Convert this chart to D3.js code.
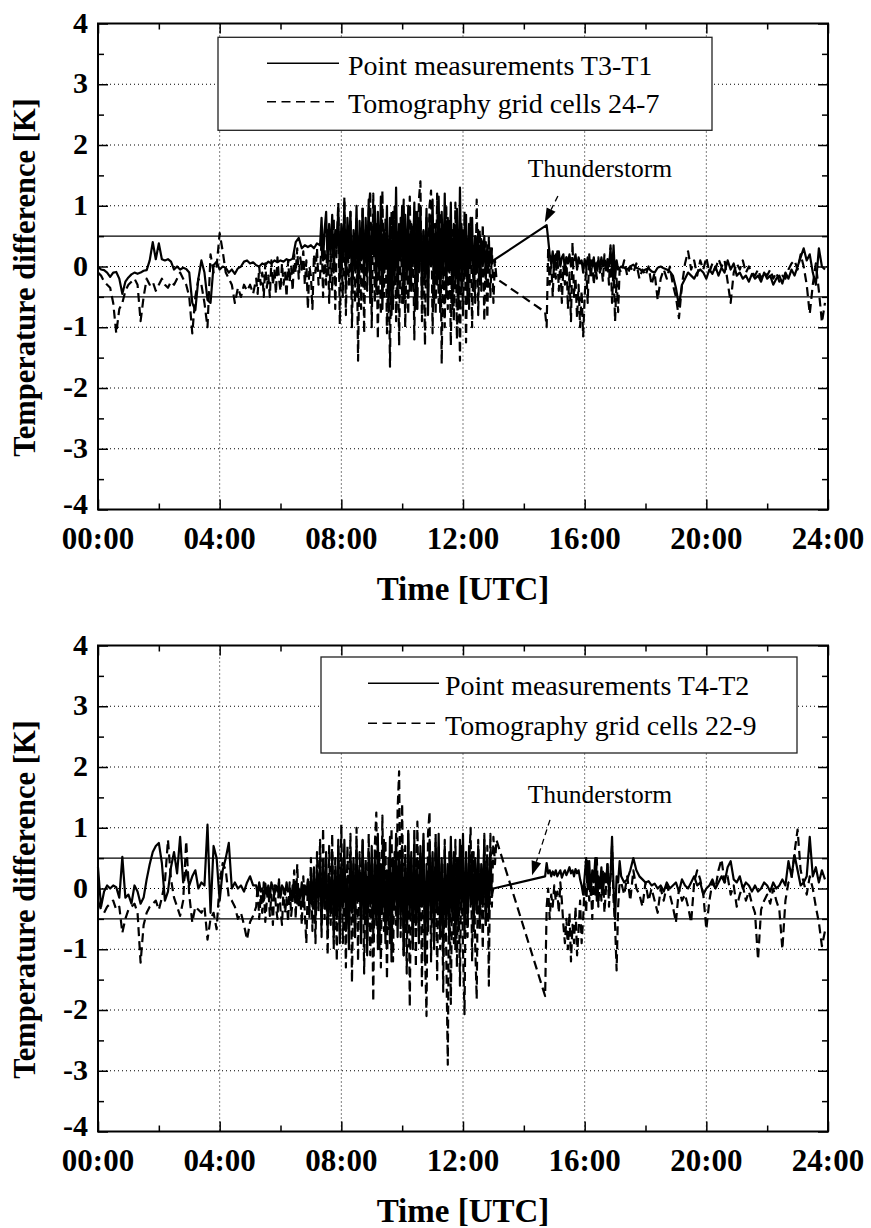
<!DOCTYPE html>
<html>
<head>
<meta charset="utf-8">
<script src="https://cdn.jsdelivr.net/npm/d3@7"></script>
<style>
  body { margin: 0; background: #fff; }
  svg { display: block; }
  svg text { font-family: "Liberation Serif", "Times New Roman", "DejaVu Serif", serif; }
</style>
</head>
<body>
<div id="chart"></div>
<script>
// axis ticks
const hourTicks = [0, 4, 8, 12, 16, 20, 24];
const hourLabels = ["00:00", "04:00", "08:00", "12:00", "16:00", "20:00", "24:00"];
const minorHours = [2, 6, 10, 14, 18, 22];
const tempTicks = [-4, -3, -2, -1, 0, 1, 2, 3, 4];
const minorTemps = [-3.5, -2.5, -1.5, -0.5, 0.5, 1.5, 2.5, 3.5];
const limitLines = [-0.5, 0.5];

// ---- top panel: T3-T1 and grid cells 24-7 (values in K) ----
// 00:00 - 05:06, every 0.1 h
const topPointA = [0.0, -0.05, -0.06, -0.1, -0.17, -0.1, -0.09, -0.2, -0.45, -0.25,
  -0.18, -0.13, -0.1, -0.12, -0.1, -0.07, -0.06, 0.1, 0.4, 0.12,
  0.38, 0.12, 0.1, 0.12, 0.08, -0.05, 0.0, -0.05, -0.02, -0.04,
  -0.1, -0.6, -0.72, -0.2, 0.1, -0.1, -0.55, -0.6, 0.02, 0.08,
  -0.05, 0.0, -0.02, -0.1, -0.05, -0.12, -0.03, 0.0, 0.08, 0.1,
  0.05, 0.07];
// 05:12 - 07:12, every 0.1 h
const topPointB = [0.02, 0.0, 0.05, 0.03, 0.08, 0.05, 0.1, 0.07, 0.1, 0.08,
  0.12, 0.1, 0.13, 0.4, 0.47, 0.3, 0.35, 0.32, 0.35, 0.3, 0.38];
// 07:18 - 13:00, every 0.05 h
const topPointDense = [0.35, 0.8, 0.1, 0.6, 0.9, 0.0, 0.7, 0.2, 0.85, -0.1,
  0.6, 0.3, 0.95, -0.2, 0.7, 0.1, 1.05, -0.3, 0.8, 0.2,
  0.9, -0.4, 0.6, 0.0, 1.0, -0.5, 0.75, 0.1, 0.95, -0.3,
  0.8, -0.1, 1.1, -0.6, 0.7, 0.2, 1.0, -0.4, 0.9, -0.2,
  1.15, -0.7, 0.6, 0.0, 1.0, -0.75, 0.8, -0.8, 0.9, -0.3,
  1.3, -0.5, 0.7, 0.1, 1.0, -0.6, 0.85, -0.2, 1.0, -0.4,
  0.7, 0.0, 1.05, -0.7, 0.9, -0.1, 1.0, -0.5, 0.6, -0.2,
  0.95, -0.8, 0.8, 0.0, 1.1, -0.6, 0.7, -0.3, 1.15, -0.75,
  0.9, -0.2, 1.2, -0.5, 0.8, -0.1, 1.05, -0.7, 0.7, -0.3,
  0.95, -0.7, 1.3, -0.4, 0.6, -0.2, 0.85, -0.6, 0.7, 0.0,
  0.8, -0.4, 0.5, -0.1, 0.6, -0.3, 0.45, 0.0, 0.5, -0.2,
  0.35, 0.0, 0.3, 0.05, 0.1];
// 14:45 - 17:06, every 0.05 h
const topPointStorm = [0.68, 0.45, 0.2, 0.05, 0.25, -0.05, 0.2, 0.1, 0.25, 0.0,
  0.15, 0.2, -0.05, 0.15, 0.05, 0.2, 0.0, 0.12, 0.1, 0.2,
  -0.05, 0.15, 0.05, 0.1, -0.1, 0.12, 0.0, 0.15, -0.05, 0.1,
  0.0, 0.15, -0.1, 0.05, 0.1, -0.05, 0.15, 0.0, 0.1, -0.05,
  0.12, 0.0, 0.3, -0.1, 0.35, -0.2, 0.1, -0.05];
// 17:12 - 23:54, every 0.1 h
const topPointEvening = [0.0, -0.02, -0.05, 0.0, 0.03, -0.02, -0.04, -0.08, -0.05, -0.03,
  -0.08, -0.1, -0.02, 0.0, -0.03, -0.05, -0.08, -0.15, -0.35, -0.65,
  -0.3, -0.2, -0.1, -0.15, -0.2, -0.1, -0.05, -0.1, -0.2, -0.05,
  -0.12, 0.0, -0.15, -0.02, -0.1, 0.1, -0.05, 0.05, -0.15, -0.1,
  -0.2, -0.15, -0.25, -0.12, -0.2, -0.15, -0.25, -0.1, -0.2, -0.15,
  -0.3, -0.2, -0.15, -0.28, -0.1, -0.2, -0.05, -0.15, 0.0, 0.15,
  0.3, 0.1, 0.2, -0.1, -0.3, 0.3, 0.0, -0.05];

const topTomoA = [-0.1, -0.15, -0.25, -0.3, -0.35, -0.6, -1.1, -0.7, -0.6, -0.4,
  -0.3, -0.25, -0.2, -0.3, -0.9, -0.5, -0.2, -0.3, -0.25, -0.4,
  -0.3, -0.2, -0.3, -0.35, -0.25, -0.3, -0.2, -0.1, -0.2, -0.3,
  -0.5, -1.1, -0.5, -0.2, -0.3, -0.6, -1.0, 0.2, -0.1, 0.0,
  0.55, 0.25, -0.1, -0.2, -0.3, -0.6, -0.35, -0.5, -0.3, -0.4,
  -0.3, -0.45];
// 05:12 - 07:15, every 0.05 h
const topTomoB = [-0.2, -0.45, 0.0, -0.3, -0.1, -0.5, 0.05, -0.35, -0.15, -0.5,
  0.1, -0.3, -0.05, -0.45, 0.15, -0.2, -0.4, 0.05, -0.3, -0.1,
  -0.5, 0.1, -0.25, 0.0, -0.4, 0.2, -0.1, 0.3, -0.2, 0.15,
  -0.05, 0.25, -0.3, 0.1, -0.7, 0.0, -0.15, -0.7, 0.2, -0.1,
  0.3, -0.3];
// 07:18 - 13:06, every 0.05 h
const topTomoDense = [-0.2, 0.5, -0.5, 0.3, -0.3, 0.6, -0.6, 0.2, -0.4, 0.8,
  -0.7, 0.4, 1.05, -0.95, 0.3, -0.5, 1.15, -0.8, 0.6, -0.3,
  0.9, -1.0, 0.5, -0.6, 0.8, -1.55, 0.4, -0.7, 1.0, -1.1,
  0.6, -0.4, 0.9, 1.25, -1.0, 1.2, -0.6, 0.7, -1.2, 0.5,
  -0.8, 1.25, -0.5, 0.8, -1.1, 0.4, -1.65, 0.9, -0.7, 1.0,
  -0.9, 0.6, -1.3, 0.8, -0.6, 1.1, -1.0, 0.5, -0.8, 1.15,
  -0.4, 0.7, -1.2, 0.9, -0.7, 1.1, 1.4, -0.9, 0.6, -1.3,
  0.8, -0.5, 1.0, 1.25, -1.1, 0.7, -0.8, 1.2, -0.6, 0.9,
  -1.6, 0.5, -1.0, 1.0, -0.7, 0.8, -1.3, 0.6, -0.9, 1.05,
  -1.2, 0.4, -1.55, 0.7, -0.8, 0.9, -1.25, 0.5, -0.7, 0.8,
  -1.0, 0.3, -0.6, 1.1, -0.8, 0.6, -0.4, 0.7, -0.9, 0.4,
  -0.85, 0.5, -0.5, 0.3, -0.6, 0.1, -0.2];
// 14:42 - 17:09, every 0.05 h
const topTomoStorm = [-0.75, -1.0, 0.3, -0.3, 0.1, -0.5, 0.2, -0.2, 0.25, -0.4,
  0.1, -0.6, 0.0, -0.3, 0.15, -0.7, -0.1, -0.9, 0.4, -0.5,
  -0.2, -0.85, -0.3, -1.0, -0.4, -1.15, -0.5, 0.0, -0.6, 0.2,
  -0.2, 0.1, -0.3, 0.05, -0.2, 0.15, -0.1, 0.0, -0.25, 0.2,
  -0.1, 0.1, -0.3, 0.35, -0.6, 0.0, -0.9, -0.2, -0.75, -0.05];
const topTomoEvening = [-0.1, 0.1, -0.15, 0.0, -0.1, 0.05, -0.2, -0.05, -0.15, 0.0,
  -0.3, -0.1, -0.55, -0.2, -0.05, -0.2, 0.0, -0.3, -0.5, -0.85,
  -0.3, 0.05, 0.25, -0.05, 0.1, -0.15, 0.1, -0.05, 0.15, -0.1,
  0.05, -0.05, 0.12, 0.0, 0.1, -0.25, -0.6, -0.1, 0.05, -0.05,
  0.1, -0.1, 0.0, -0.1, -0.15, -0.05, -0.2, -0.1, -0.15, -0.05,
  -0.2, -0.1, -0.25, -0.15, -0.2, -0.05, 0.05, 0.1, -0.05, 0.2,
  0.0, -0.3, -0.78, -0.3, 0.05, -0.4, -0.92, -0.6];

// ---- bottom panel: T4-T2 and grid cells 22-9 ----
const botPointA = [0.35, -0.3, -0.05, 0.05, 0.0, 0.05, 0.02, -0.15, 0.52, -0.15,
  -0.1, -0.25, 0.05, -0.05, -0.25, -0.15, 0.15, 0.4, 0.6, 0.7,
  0.75, 0.42, -0.2, -0.05, 0.35, 0.6, 0.25, 0.85, 0.1, 0.3,
  0.05, 0.2, 0.3, 0.0, 0.1, 0.05, 1.05, -0.4, 0.7, 0.5,
  -0.2, 0.3, 0.5, 0.75, 0.0, 0.1, 0.0, 0.05, -0.05, 0.1,
  0.2, 0.05];
// 05:12 - 13:00, every 0.05 h
const botPointDense = [0.05, -0.1, 0.1, -0.05, 0.0, -0.2, 0.08, -0.1, 0.05, -0.15,
  0.1, 0.0, -0.1, 0.05, -0.05, 0.1, -0.15, 0.05, 0.0, -0.1,
  0.1, -0.05, 0.0, -0.2, 0.05, -0.1, 0.1, -0.25, 0.0, -0.15,
  0.1, -0.3, 0.05, -0.1, 0.15, -0.35, 0.2, -0.3, 0.35, -0.5,
  0.3, -0.2, 0.5, -0.6, 0.4, -0.3, 0.6, -0.7, 0.2, -0.4,
  0.55, -0.8, 0.3, -0.5, 0.7, -0.9, 0.4, -0.3, 0.8, -0.7,
  0.2, -1.0, 0.6, -0.4, 0.5, -0.8, 0.7, -0.2, 0.3, -0.9,
  0.8, -0.5, 0.4, -1.1, 0.6, -0.3, 0.7, -0.8, 0.5, -0.6,
  0.9, -1.0, 0.4, -0.4, 0.8, -0.9, 0.3, -0.6, 0.85, -1.2,
  0.5, -0.3, 0.9, -0.8, 0.6, -0.5, 0.7, -1.1, 0.4, -0.7,
  0.95, -0.4, 0.6, -1.0, 0.8, -0.6, 0.5, -0.9, 0.7, -0.3,
  0.9, -1.2, 0.4, -0.7, 0.8, -0.5, 0.6, -1.0, 0.75, -0.4,
  0.9, -0.8, 0.5, -1.1, 0.7, -0.6, 0.4, -0.9, 0.85, -0.5,
  0.6, -1.0, 0.5, -0.7, 0.8, -0.4, 0.9, -0.8, 0.5, -0.6,
  0.7, -0.3, 0.6, -0.7, 0.5, -0.4, 0.7, -0.5, 0.4, -0.3,
  0.8, -0.6, 0.5, -0.4, 0.6, -0.1, 0.0];
// 14:42 - 17:09, every 0.05 h
const botPointStorm = [0.2, 0.42, 0.25, 0.3, 0.2, 0.28, 0.22, 0.3, 0.2, 0.25,
  0.3, 0.18, 0.25, 0.3, 0.22, 0.28, 0.35, 0.25, 0.3, 0.2,
  0.32, 0.25, 0.3, 0.15, 0.05, -0.1, 0.2, 0.5, 0.0, 0.45,
  -0.1, 0.3, 0.1, 0.5, -0.2, 0.2, 0.0, 0.35, -0.1, 0.25,
  0.1, 0.4, -0.05, 0.2, 0.85, 0.0, -0.5, 0.2, 0.1, 0.45];
const botPointEvening = [0.2, 0.1, 0.15, 0.3, 0.5, 0.3, 0.2, 0.15, 0.1, 0.12,
  0.05, 0.08, 0.0, 0.05, -0.05, 0.1, 0.0, 0.05, 0.1, -0.05,
  0.15, 0.05, 0.0, 0.1, 0.2, 0.05, 0.1, -0.1, 0.0, 0.05,
  0.15, 0.0, 0.1, 0.2, 0.1, 0.35, 0.45, 0.15, 0.1, 0.2,
  0.0, 0.1, 0.05, -0.05, 0.05, -0.05, 0.0, 0.1, 0.05, -0.05,
  0.1, 0.0, 0.05, 0.15, 0.05, 0.45, 0.2, 0.55, 0.3, 0.05,
  0.1, 0.2, 0.85, 0.2, 0.35, 0.1, 0.3, 0.15];

const botTomoA = [-0.2, -0.35, -0.4, -0.3, -0.25, -0.2, -0.35, -0.3, -0.73, -0.5,
  -0.35, -0.3, -0.25, -0.4, -1.22, -0.6, -0.4, -0.3, -0.25, -0.2,
  -0.35, -0.15, 0.1, 0.8, 0.15, -0.15, -0.3, -0.45, -0.2, 0.78,
  -0.1, -0.56, -0.3, -0.35, -0.4, -0.3, -0.84, -0.5, -0.4, -0.67,
  0.1, 0.42, 0.3, -0.15, -0.2, -0.3, -0.5, -0.4, -0.6, -0.84,
  -0.55, -0.45];
// 05:12 - 13:06, every 0.05 h
const botTomoDense = [-0.3, 0.05, -0.5, -0.1, -0.4, 0.1, -0.55, -0.2, 0.0, -0.45,
  -0.1, -0.6, 0.05, -0.3, -0.5, 0.15, -0.35, -0.6, 0.0, -0.4,
  -0.15, -0.55, 0.1, -0.45, -0.2, 0.3, -0.5, 0.4, -0.3, -0.1,
  -0.6, 0.2, -0.4, -0.9, 0.1, -0.5, 0.5, -0.7, 0.3, -0.9,
  0.6, -0.4, 0.8, -0.8, 1.0, -0.5, 0.4, -1.1, 0.7, -0.6,
  0.9, -1.0, 0.5, -1.2, 0.8, -0.7, 1.05, -0.9, 0.3, -1.3,
  0.7, -0.6, 0.9, -1.55, 0.4, -0.8, 1.0, -1.2, 0.6, -0.5,
  0.8, -1.4, 0.5, -0.9, 0.9, -1.1, 0.3, -1.86, 0.7, 1.25,
  -1.0, 0.6, -1.3, 1.2, -0.7, 0.8, -1.5, 0.5, -0.9, 1.0,
  -1.2, 0.6, -0.6, 1.3, 1.93, -0.8, 1.4, -1.1, 0.7, -1.4,
  0.9, -1.95, 0.5, -0.9, 1.0, -1.3, 1.1, -0.7, 0.6, -1.6,
  0.8, -1.0, -2.1, 0.9, 1.27, -1.2, 0.5, -0.8, 0.9, -1.5,
  0.7, -1.0, 0.4, -1.7, 0.8, -1.1, -2.9, 0.6, -1.9, 0.3,
  -0.9, 0.8, -1.3, 0.5, -1.6, 0.7, -1.0, -2.07, 0.6, -0.8,
  0.4, 1.0, -1.2, 0.6, -0.9, -1.82, 0.8, -0.7, 0.3, -1.0,
  0.9, -0.6, 0.7, -1.6, 0.9, -0.3, 0.85, 0.4, 0.8];
// 14:42 - 17:09, every 0.05 h
const botTomoStorm = [-1.77, -0.3, 0.0, -0.5, -0.1, -0.3, 0.05, -0.2, -0.05, -0.4,
  0.1, -0.2, -0.6, -0.9, -0.5, -1.0, -0.4, -1.2, -0.6, -0.9,
  -0.3, -1.1, -0.7, -0.2, -0.9, -0.5, 0.1, -0.4, 0.45, -0.2,
  0.1, -0.5, 0.3, -0.1, 0.5, -0.3, 0.2, -0.2, 0.3, -0.4,
  0.0, 0.4, -0.3, 0.2, 0.7, -0.2, -0.6, -1.35, -0.3, 0.1];
const botTomoEvening = [0.1, -0.1, 0.2, -0.2, 0.3, 0.0, -0.1, -0.3, 0.1, -0.2,
  0.0, -0.2, -0.4, 0.0, -0.2, 0.05, -0.1, -0.3, -0.56, 0.0,
  -0.2, -0.1, -0.3, -0.56, 0.1, 0.3, 0.15, -0.1, -0.67, -0.2,
  0.1, 0.0, 0.3, 0.48, 0.1, 0.2, -0.1, 0.05, -0.3, -0.1,
  0.05, -0.2, -0.05, -0.25, -0.4, -1.17, -0.35, -0.2, -0.1, -0.25,
  0.0, -0.2, -0.35, -1.0, -0.2, 0.1, 0.15, 0.6, 0.97, 0.3,
  0.1, -0.1, 0.2, 0.0, -0.3, -0.56, -0.95, -0.7];

// samples of one segment: start hour, sampling step in hours
const seg = (start, step, values) => values.map((v, i) => ({ t: start + i * step, v: v }));

const panels = [
  {
    top: 23.5,
    point: [].concat(seg(0, 0.1, topPointA), seg(5.2, 0.1, topPointB), seg(7.3, 0.05, topPointDense),
      seg(14.75, 0.05, topPointStorm), seg(17.2, 0.1, topPointEvening)),
    tomo: [].concat(seg(0, 0.1, topTomoA), seg(5.2, 0.05, topTomoB), seg(7.3, 0.05, topTomoDense),
      seg(14.7, 0.05, topTomoStorm), seg(17.2, 0.1, topTomoEvening)),
    legendText: ["Point measurements T3-T1", "Tomography grid cells 24-7"],
    legend: { x: 218, y: 13.8, w: 494, h: 93, lineX: [267, 339], textX: 348, rows: [39.8, 78.2] },
    storm: { label: [16.5, 1.47], from: [15.12, 1.16], to: [14.69, 0.73] }
  },
  {
    top: 645.5,
    point: [].concat(seg(0, 0.1, botPointA), seg(5.2, 0.05, botPointDense),
      seg(14.7, 0.05, botPointStorm), seg(17.2, 0.1, botPointEvening)),
    tomo: [].concat(seg(0, 0.1, botTomoA), seg(5.2, 0.05, botTomoDense),
      seg(14.7, 0.05, botTomoStorm), seg(17.2, 0.1, botTomoEvening)),
    legendText: ["Point measurements T4-T2", "Tomography grid cells 22-9"],
    legend: { x: 321, y: 11.5, w: 476, h: 96, lineX: [368, 439], textX: 445, rows: [37.8, 77.8] },
    storm: { label: [16.5, 1.41], from: [14.86, 1.13], to: [14.27, 0.22] }
  }
];

const width = 871, height = 1228;
const plotH = 486;

const svg = d3.select("#chart")
  .append("svg")
  .attr("width", width)
  .attr("height", height);

const x = d3.scaleLinear().domain([0, 24]).range([98, 828]);
const y = d3.scaleLinear().domain([-4, 4]).range([plotH, 0]);

const line = d3.line()
  .x(d => x(d.t))
  .y(d => y(d.v));

panels.forEach(p => {
  const g = svg.append("g").attr("transform", `translate(0, ${p.top})`);

  // dotted grid
  g.selectAll(".vgrid")
    .data(hourTicks.slice(1, -1))
    .enter()
    .append("line")
    .attr("x1", d => x(d)).attr("x2", d => x(d))
    .attr("y1", 0).attr("y2", plotH)
    .attr("stroke", "#000").attr("stroke-width", 1)
    .attr("stroke-dasharray", "1,3");

  g.selectAll(".hgrid")
    .data(tempTicks.slice(1, -1))
    .enter()
    .append("line")
    .attr("x1", x(0)).attr("x2", x(24))
    .attr("y1", d => y(d)).attr("y2", d => y(d))
    .attr("stroke", "#000").attr("stroke-width", 1)
    .attr("stroke-dasharray", "1,3");

  // +-0.5 K lines
  g.selectAll(".limit")
    .data(limitLines)
    .enter()
    .append("line")
    .attr("x1", x(0)).attr("x2", x(24))
    .attr("y1", d => y(d)).attr("y2", d => y(d))
    .attr("stroke", "#000").attr("stroke-width", 1.3);

  // legend
  const lg = g.append("g");
  lg.append("rect")
    .attr("x", p.legend.x).attr("y", p.legend.y)
    .attr("width", p.legend.w).attr("height", p.legend.h)
    .attr("fill", "#fff").attr("stroke", "#222").attr("stroke-width", 1.3);
  p.legendText.forEach((txt, i) => {
    lg.append("line")
      .attr("x1", p.legend.lineX[0]).attr("x2", p.legend.lineX[1])
      .attr("y1", p.legend.rows[i]).attr("y2", p.legend.rows[i])
      .attr("stroke", "#000").attr("stroke-width", 1.6)
      .attr("stroke-dasharray", i === 0 ? null : "9,5.5");
    lg.append("text")
      .attr("x", p.legend.textX).attr("y", p.legend.rows[i] + 11.7)
      .attr("font-size", 28)
      .text(txt);
  });

  // data
  g.append("path")
    .datum(p.tomo)
    .attr("fill", "none")
    .attr("stroke", "#000")
    .attr("stroke-width", 2.2)
    .attr("stroke-linejoin", "round")
    .attr("stroke-dasharray", "9,5")
    .attr("d", line);

  g.append("path")
    .datum(p.point)
    .attr("fill", "none")
    .attr("stroke", "#000")
    .attr("stroke-width", 2.2)
    .attr("stroke-linejoin", "round")
    .attr("d", line);

  // thunderstorm annotation
  const s = p.storm;
  g.append("text")
    .attr("x", x(s.label[0])).attr("y", y(s.label[1]))
    .attr("text-anchor", "middle")
    .attr("font-size", 25.5)
    .text("Thunderstorm");
  const x0 = x(s.from[0]), y0 = y(s.from[1]), x1 = x(s.to[0]), y1 = y(s.to[1]);
  const ang = Math.atan2(y1 - y0, x1 - x0);
  const headLen = 14, headW = 5;
  const bx = x1 - headLen * Math.cos(ang), by = y1 - headLen * Math.sin(ang);
  g.append("line")
    .attr("x1", x0).attr("y1", y0).attr("x2", bx).attr("y2", by)
    .attr("stroke", "#000").attr("stroke-width", 1.3)
    .attr("stroke-dasharray", "6,4");
  g.append("path")
    .attr("d", `M${x1},${y1}L${bx - headW * Math.sin(ang)},${by + headW * Math.cos(ang)}L${bx + headW * Math.sin(ang)},${by - headW * Math.cos(ang)}Z`)
    .attr("fill", "#000");

  // frame
  g.append("rect")
    .attr("x", x(0)).attr("y", 0)
    .attr("width", x(24) - x(0)).attr("height", plotH)
    .attr("fill", "none").attr("stroke", "#000").attr("stroke-width", 2);

  // ticks (inward) on all four sides
  const tickAxis = (axis, values, size, transform) => {
    const a = g.append("g")
      .attr("transform", transform)
      .call(axis.tickValues(values).tickSize(-size).tickFormat(""));
    a.select(".domain").remove();
    a.selectAll("line").attr("stroke-width", 1.5);
  };
  tickAxis(d3.axisLeft(y), tempTicks, 10, `translate(${x(0)},0)`);
  tickAxis(d3.axisLeft(y), minorTemps, 6, `translate(${x(0)},0)`);
  tickAxis(d3.axisRight(y), tempTicks, 10, `translate(${x(24)},0)`);
  tickAxis(d3.axisRight(y), minorTemps, 6, `translate(${x(24)},0)`);
  tickAxis(d3.axisBottom(x), hourTicks, 10, `translate(0,${plotH})`);
  tickAxis(d3.axisBottom(x), minorHours, 6, `translate(0,${plotH})`);
  tickAxis(d3.axisTop(x), hourTicks, 10, "translate(0,0)");
  tickAxis(d3.axisTop(x), minorHours, 6, "translate(0,0)");

  // tick labels (the lowest one sits a little higher, clear of the time labels)
  g.selectAll(".ylab")
    .data(tempTicks)
    .enter()
    .append("text")
    .attr("x", x(0) - 10)
    .attr("y", d => y(d) - (d === -4 ? 5 : 0))
    .attr("dy", "0.3em")
    .attr("text-anchor", "end")
    .attr("font-size", 30)
    .attr("font-weight", "bold")
    .text(d => d);

  g.selectAll(".xlab")
    .data(hourTicks)
    .enter()
    .append("text")
    .attr("x", d => x(d))
    .attr("y", plotH + 39)
    .attr("text-anchor", "middle")
    .attr("font-size", 31)
    .attr("font-weight", "bold")
    .text((d, i) => hourLabels[i]);

  g.append("text")
    .attr("x", (x(0) + x(24)) / 2)
    .attr("y", plotH + 90)
    .attr("text-anchor", "middle")
    .attr("font-size", 33)
    .attr("font-weight", "bold")
    .text("Time [UTC]");

  g.append("text")
    .attr("transform", `translate(35, ${plotH / 2 + 11}) rotate(-90)`)
    .attr("text-anchor", "middle")
    .attr("font-size", 30.5)
    .attr("font-weight", "bold")
    .text("Temperature difference [K]");
});
</script>
</body>
</html>
